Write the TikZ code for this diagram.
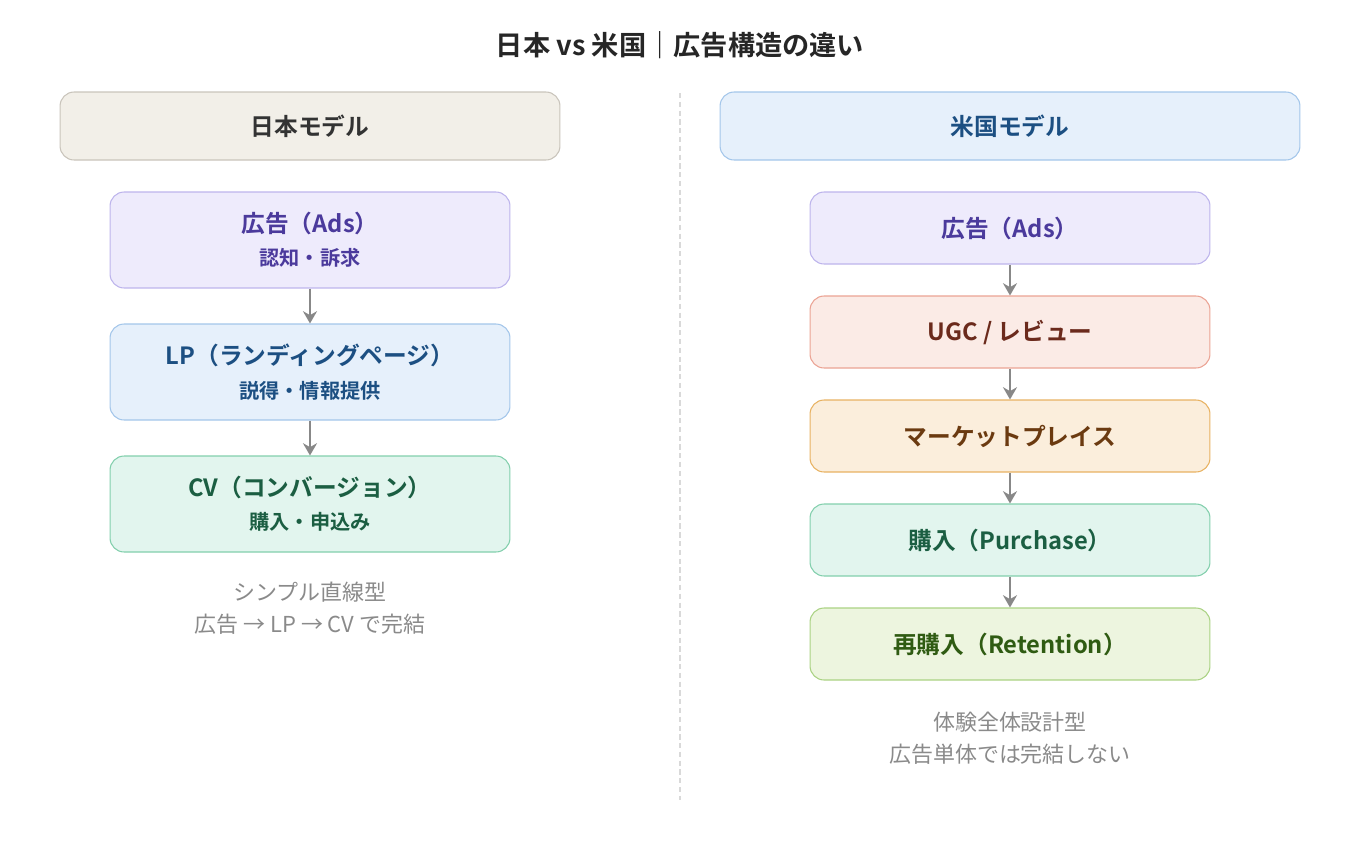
\documentclass[tikz,border=0pt]{standalone}
\usepackage{fontspec}
\setmainfont{Noto Sans CJK JP}[BoldFont={Noto Sans CJK JP Bold}]
\usetikzlibrary{positioning,arrows.meta}
\definecolor{arrowgray}{HTML}{888888}
\definecolor{capgray}{HTML}{8A8A8A}
\definecolor{beigefill}{HTML}{F2EFE8}\definecolor{beigeline}{HTML}{C9C4BB}
\definecolor{purfill}{HTML}{EEEBFC}\definecolor{purline}{HTML}{BDB4EC}\definecolor{purtext}{HTML}{4B3A9C}
\definecolor{bluefill}{HTML}{E6F0FB}\definecolor{blueline}{HTML}{A3C6EA}\definecolor{bluetext}{HTML}{1C4F82}
\definecolor{grnfill}{HTML}{E2F5EE}\definecolor{grnline}{HTML}{82CFAC}\definecolor{grntext}{HTML}{1B5E42}
\definecolor{redfill}{HTML}{FBEBE6}\definecolor{redline}{HTML}{EBA394}\definecolor{redtext}{HTML}{6B2A1C}
\definecolor{orgfill}{HTML}{FBEEDC}\definecolor{orgline}{HTML}{E8B262}\definecolor{orgtext}{HTML}{6B3A10}
\definecolor{limfill}{HTML}{EDF5DF}\definecolor{limline}{HTML}{AAD283}\definecolor{limtext}{HTML}{2F5B12}
\tikzset{
  box/.style={draw, rounded corners=8pt, line width=0.6pt, align=center, font=\bfseries\fontsize{13.5}{17}\selectfont},
  flow/.style={-{Stealth[length=7pt,width=8pt]}, draw=arrowgray, line width=1.5pt},
  caption/.style={text=capgray, align=center, font=\fontsize{12.5}{18.5}\selectfont}
}
\newcommand{\subline}[1]{{\fontsize{11.5}{13}\selectfont #1}}
\begin{document}
\begin{tikzpicture}[x=0.02cm,y=-0.02cm]
\useasboundingbox (0,0) rectangle (1360,860);
\node[font=\bfseries\fontsize{15.5}{18}\selectfont, text=black!85] (title) at (680,45) {日本 vs 米国｜広告構造の違い};
\draw[densely dashed, draw=black!15, line width=0.8pt] (680,93) -- (680,800);

% left: Japan
\node[box, fill=beigefill, draw=beigeline, text=black!80, minimum width=10cm, minimum height=1.36cm] (jp) at (310,126) {日本モデル};
\begin{scope}[every node/.append style={minimum width=8cm, minimum height=1.92cm}]
\node[box, fill=purfill, draw=purline, text=purtext] (jads) at (310,240) {広告（Ads）\\[2pt]\subline{認知・訴求}};
\node[box, fill=bluefill, draw=blueline, text=bluetext] (jlp) at (310,372) {LP（ランディングページ）\\[2pt]\subline{説得・情報提供}};
\node[box, fill=grnfill, draw=grnline, text=grntext] (jcv) at (310,504) {CV（コンバージョン）\\[2pt]\subline{購入・申込み}};
\end{scope}
\draw[flow] (jads) -- (jlp);
\draw[flow] (jlp) -- (jcv);
\node[caption] (jcap) at (310,608) {シンプル直線型\\広告 → LP → CV で完結};

% right: US
\node[box, fill=bluefill, draw=blueline, text=bluetext, minimum width=11.6cm, minimum height=1.36cm] (us) at (1010,126) {米国モデル};
\begin{scope}[every node/.append style={minimum width=8cm, minimum height=1.44cm}]
\node[box, fill=purfill, draw=purline, text=purtext] (uads) at (1010,228) {広告（Ads）};
\node[box, fill=redfill, draw=redline, text=redtext] (uugc) at (1010,332) {UGC / レビュー};
\node[box, fill=orgfill, draw=orgline, text=orgtext] (umkt) at (1010,436) {マーケットプレイス};
\node[box, fill=grnfill, draw=grnline, text=grntext] (ubuy) at (1010,540) {購入（Purchase）};
\node[box, fill=limfill, draw=limline, text=limtext] (uret) at (1010,644) {再購入（Retention）};
\end{scope}
\foreach \a/\b in {uads/uugc,uugc/umkt,umkt/ubuy,ubuy/uret}
  \draw[flow] (\a) -- (\b);
\node[caption] (ucap) at (1010,738) {体験全体設計型\\広告単体では完結しない};
\end{tikzpicture}
\end{document}
